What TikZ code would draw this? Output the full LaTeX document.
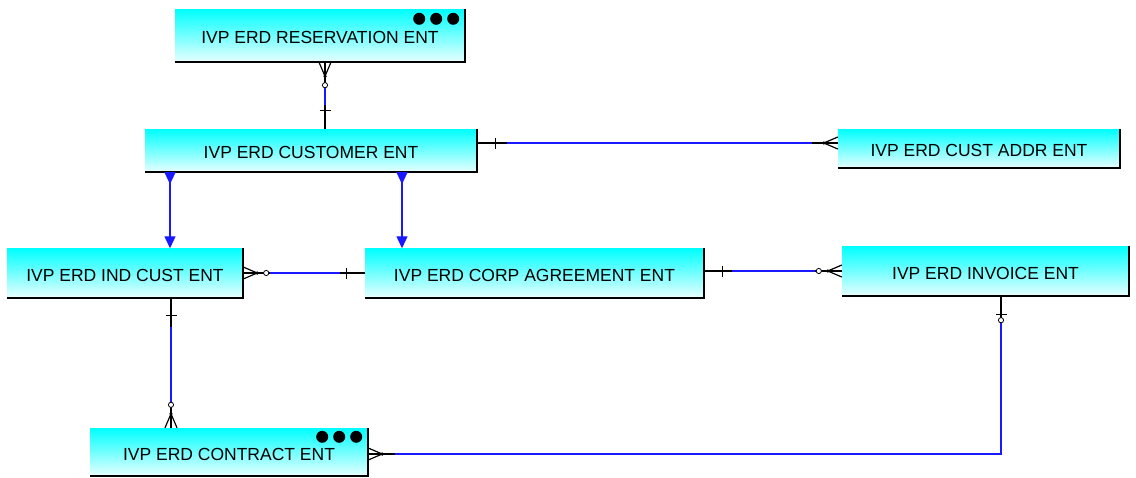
\documentclass[tikz,border=0pt]{standalone}
\usepackage{fontspec}
\setmainfont{Liberation Sans}
\usepackage{tikz}
\usetikzlibrary{arrows.meta,calc}
\definecolor{entTop}{RGB}{0,255,255}
\definecolor{entBot}{RGB}{232,255,255}
\definecolor{relBlue}{RGB}{25,25,255}
\tikzset{
  ent/.style={top color=entTop, bottom color=entBot, inner sep=0pt, text height=16pt, text depth=0pt,
    font=\fontsize{17.5}{20}\selectfont},
  wire/.style={line width=1.2pt, black},
  rel/.style={line width=1.2pt, relBlue},
  tris/.style={{Triangle[reversed,length=12pt,width=11pt]}-{Triangle[length=12pt,width=11pt]}},
  one/.pic={\draw[wire] (18,-5.5) -- (18,5.5);},
  many/.pic={\draw[wire] (0,-6) -- (14,0) -- (0,6) (0,0) -- (14,0); \fill (14,0) circle (1.8);},
  zmany/.pic={\draw[wire] (0,-6) -- (14,0) -- (0,6) (0,0) -- (23,0); \fill (14,0) circle (1.8);
    \draw[wire, line width=0.8pt, fill=white] (23,0) circle (2.6);},
  zone/.pic={\draw[wire] (18,-5.5) -- (18,5.5) (0,0) -- (24,0);
    \draw[wire, line width=0.8pt, fill=white] (24,0) circle (2.6);}
}

\begin{document}
\begin{tikzpicture}[x=1pt, y=-1pt]
\useasboundingbox (0,0) rectangle (1136,477);
\node[ent, minimum width=290pt, minimum height=53pt] (res) at (320,35.5) {IVP ERD RESERVATION ENT};
\node[ent, minimum width=332pt, minimum height=43pt] (cust) at (311,150.5) {IVP ERD CUSTOMER ENT};
\node[ent, minimum width=282pt, minimum height=39pt] (addr) at (979,148.5) {IVP ERD CUST ADDR ENT};
\node[ent, minimum width=236pt, minimum height=49pt] (ind) at (125,273) {IVP ERD IND CUST ENT};
\node[ent, minimum width=339pt, minimum height=49pt] (corp) at (534.5,273) {IVP ERD CORP AGREEMENT ENT};
\node[ent, minimum width=287pt, minimum height=50pt] (inv) at (985.5,271) {IVP ERD INVOICE ENT};
\node[ent, minimum width=278pt, minimum height=48pt] (contract) at (229,452) {IVP ERD CONTRACT ENT};
\foreach \e in {res,cust,addr,ind,corp,inv,contract}
  \draw[line width=2pt] (\e.north east) -- (\e.south east) -- (\e.south west);
\foreach \dx in {-12,-29,-46} {
  \fill ([shift={(\dx,10)}]res.north east) circle (6);
  \fill ([shift={(\dx,9)}]contract.north east) circle (6);
}

\coordinate (rc) at ([xshift=5pt]res.south);
\draw[wire] (rc) -- (rc |- cust.north);
\draw[rel, shorten <=26pt, shorten >=24pt] (rc) -- (rc |- cust.north);
\pic[rotate=-90] at (rc) {zmany};
\pic[rotate=90] at (rc |- cust.north) {one};

\coordinate (ca) at ([yshift=7.5pt]cust.east);
\draw[wire] (ca) -- (ca -| addr.west);
\draw[rel, shorten <=30pt, shorten >=26pt] (ca) -- (ca -| addr.west);
\pic at (ca) {one};
\pic[rotate=180] at (ca -| addr.west) {many};

\coordinate (ci) at ([xshift=45pt]ind.north);
\draw[rel, tris] (ci |- cust.south) -- (ci);
\coordinate (cp) at ([xshift=-132.5pt]corp.north);
\draw[rel, tris] (cp |- cust.south) -- (cp);

\draw[wire] (ind.east) -- (corp.west);
\draw[rel, shorten <=27pt, shorten >=25pt] (ind.east) -- (corp.west);
\pic at (ind.east) {zmany};
\pic[rotate=180] at (corp.west) {one};

\draw[wire] (corp.east |- inv.west) -- (inv.west);
\draw[rel, shorten <=28pt, shorten >=27pt] (corp.east |- inv.west) -- (inv.west);
\pic at (corp.east |- inv.west) {one};
\pic[rotate=180] at (inv.west) {zmany};

\coordinate (ik) at ([xshift=46pt]ind.south);
\draw[wire] (ik) -- (ik |- contract.north);
\draw[rel, shorten <=29pt, shorten >=26pt] (ik) -- (ik |- contract.north);
\pic[rotate=-90] at (ik) {one};
\pic[rotate=90] at (ik |- contract.north) {zmany};

\coordinate (vk) at ([xshift=15.5pt]inv.south);
\coordinate (kv) at ([yshift=-2pt]contract.east);
\draw[wire] (vk) |- (kv);
\draw[rel, shorten <=27pt, shorten >=27pt] (vk) |- (kv);
\pic[rotate=-90] at (vk) {zone};
\pic at (kv) {many};
\end{tikzpicture}
\end{document}
